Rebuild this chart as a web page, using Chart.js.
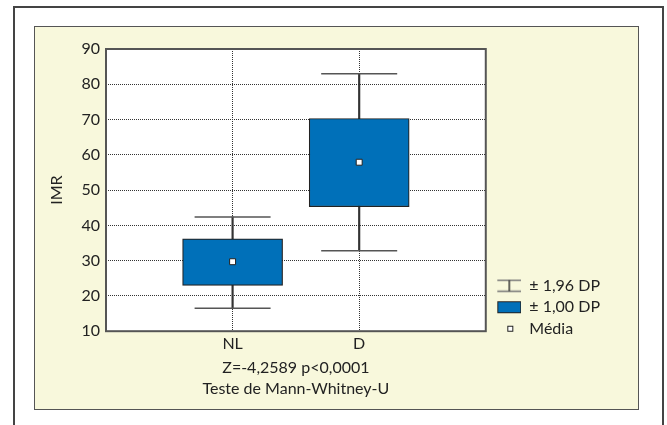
<!DOCTYPE html>
<html>
<head>
<meta charset="utf-8">
<script src="https://cdn.jsdelivr.net/npm/chart.js@4/dist/chart.umd.min.js"></script>
<style>
  body { margin: 0; background: #fff; }
  #outer { position: absolute; left: 13px; top: 6px; width: 647px; height: 440px; border: 2px solid #444; }
  #panel { position: absolute; left: 34px; top: 26px; width: 603px; height: 382px; background: #f8f8dc; border: 1px solid #555; }
  #wrap { position: absolute; left: 35px; top: 27px; width: 603px; height: 382px; }
</style>
</head>
<body>
<div id="outer"></div>
<div id="panel"></div>
<div id="wrap"><canvas id="myChart"></canvas></div>
<script>
// values
const categories = ['NL', 'D'];
const means = [29.7, 57.9];
const sdLow = [23.0, 45.3];   // mean - 1,00 DP
const sdHigh = [36.2, 70.3];  // mean + 1,00 DP
const ciLow = [16.5, 32.8];   // mean - 1,96 DP
const ciHigh = [42.4, 83.0];  // mean + 1,96 DP
const yMin = 10, yMax = 90, yStep = 10;
const legendLabels = ['± 1,96 DP', '± 1,00 DP', 'Média'];
const axisTitle = ['Z=-4,2589 p<0,0001', 'Teste de Mann-Whitney-U'];

const boxBlue = '#0070b9';
const fontName = 'Lato';

// small icons for the legend
function makeIcon(kind) {
    const c = document.createElement('canvas');
    c.width = 30;
    c.height = 14;
    const g = c.getContext('2d');
    if (kind === 'whisker') {
        g.strokeStyle = '#777';
        g.lineWidth = 1.5;
        g.beginPath();
        g.moveTo(6, 1.5); g.lineTo(30, 1.5);
        g.moveTo(6, 12.5); g.lineTo(30, 12.5);
        g.stroke();
        g.strokeStyle = '#333';
        g.beginPath();
        g.moveTo(18, 1.5); g.lineTo(18, 12.5);
        g.stroke();
    } else if (kind === 'box') {
        g.fillStyle = boxBlue;
        g.fillRect(6, 1, 24, 12);
        g.strokeStyle = '#222';
        g.lineWidth = 1;
        g.strokeRect(6.5, 1.5, 23, 11);
    } else {
        g.fillStyle = '#fff';
        g.fillRect(16, 4, 6, 6);
        g.strokeStyle = '#222';
        g.lineWidth = 1;
        g.strokeRect(16.5, 4.5, 5, 5);
    }
    return c;
}
const icons = [makeIcon('whisker'), makeIcon('box'), makeIcon('mean')];

const xs = categories.map((c, i) => i + 1);

// white plot area and dark frame round it
const plotFrame = {
    id: 'plotFrame',
    beforeDraw(chart) {
        const a = chart.chartArea;
        const ctx = chart.ctx;
        ctx.save();
        ctx.fillStyle = '#fff';
        ctx.fillRect(a.left, a.top, a.right - a.left, a.bottom - a.top);
        ctx.restore();
    },
    afterDraw(chart) {
        const a = chart.chartArea;
        const ctx = chart.ctx;
        ctx.save();
        ctx.strokeStyle = '#555';
        ctx.lineWidth = 2;
        ctx.strokeRect(a.left, a.top, a.right - a.left, a.bottom - a.top);
        ctx.restore();
    }
};

// push the legend down a little, to sit by the bottom of the plot
const legendShift = {
    id: 'legendShift',
    afterLayout(chart) {
        chart.legend.top += 11;
        chart.legend.bottom += 11;
    }
};

const ctx = document.getElementById('myChart').getContext('2d');
const myChart = new Chart(ctx, {
    type: 'bar',
    data: {
        datasets: [
            {
                label: 'mean',
                type: 'scatter',
                data: xs.map((x, i) => ({ x: x, y: means[i] })),
                pointStyle: 'rect',
                radius: 4.2,
                backgroundColor: '#fff',
                borderColor: '#222',
                borderWidth: 1,
                order: 0
            },
            {
                label: 'caps',
                type: 'scatter',
                data: xs.flatMap((x, i) => [{ x: x, y: ciLow[i] }, { x: x, y: ciHigh[i] }]),
                pointStyle: 'line',
                radius: 38,
                borderColor: '#555',
                borderWidth: 1.5,
                order: 1
            },
            {
                label: 'sd',
                data: xs.map((x, i) => ({ x: x, y: [sdLow[i], sdHigh[i]] })),
                backgroundColor: boxBlue,
                borderColor: '#222',
                borderWidth: 1.2,
                borderSkipped: false,
                barThickness: 100,
                grouped: false,
                order: 2
            },
            {
                label: 'whisker',
                data: xs.map((x, i) => ({ x: x, y: [ciLow[i], ciHigh[i]] })),
                backgroundColor: '#333',
                borderWidth: 0,
                barThickness: 1.5,
                grouped: false,
                order: 3
            }
        ]
    },
    options: {
        responsive: true,
        maintainAspectRatio: false,
        animation: false,
        layout: { autoPadding: false, padding: { top: 22, right: 28, bottom: 0, left: 0 } },
        plugins: {
            tooltip: { enabled: false },
            legend: {
                position: 'right',
                align: 'end',
                fullSize: false,
                labels: {
                    usePointStyle: true,
                    pointStyleWidth: 30,
                    padding: 5.5,
                    color: '#222',
                    font: { family: fontName, size: 16 },
                    generateLabels: () => legendLabels.map((t, i) => ({
                        text: t,
                        pointStyle: icons[i],
                        fontColor: '#222',
                        hidden: false,
                        datasetIndex: 0
                    }))
                }
            }
        },
        scales: {
            x: {
                type: 'linear',
                min: 0,
                max: categories.length + 1,
                offset: false,
                afterBuildTicks: (scale) => {
                    scale.ticks = xs.map(v => ({ value: v }));
                },
                ticks: {
                    padding: 3,
                    color: '#222',
                    font: { family: fontName, size: 16 },
                    callback: (v) => categories[v - 1]
                },
                grid: { color: '#333', lineWidth: 1, drawTicks: false, offset: false },
                border: { display: false, dash: [1, 1] },
                title: {
                    display: true,
                    text: axisTitle,
                    color: '#222',
                    font: { family: fontName, size: 16, lineHeight: 1.3 },
                    padding: { top: 1, bottom: 10 }
                }
            },
            y: {
                min: yMin,
                max: yMax,
                afterFit: (scale) => { scale.width = 71; },
                ticks: {
                    stepSize: yStep,
                    padding: 6,
                    color: '#222',
                    font: { family: fontName, size: 16 }
                },
                grid: { color: '#333', lineWidth: 1, drawTicks: false },
                border: { display: false, dash: [1, 1] },
                title: {
                    display: true,
                    text: 'IMR',
                    color: '#222',
                    font: { family: fontName, size: 16 },
                    padding: { top: 12, bottom: 0 }
                }
            }
        }
    },
    plugins: [plotFrame, legendShift]
});
</script>
</body>
</html>
